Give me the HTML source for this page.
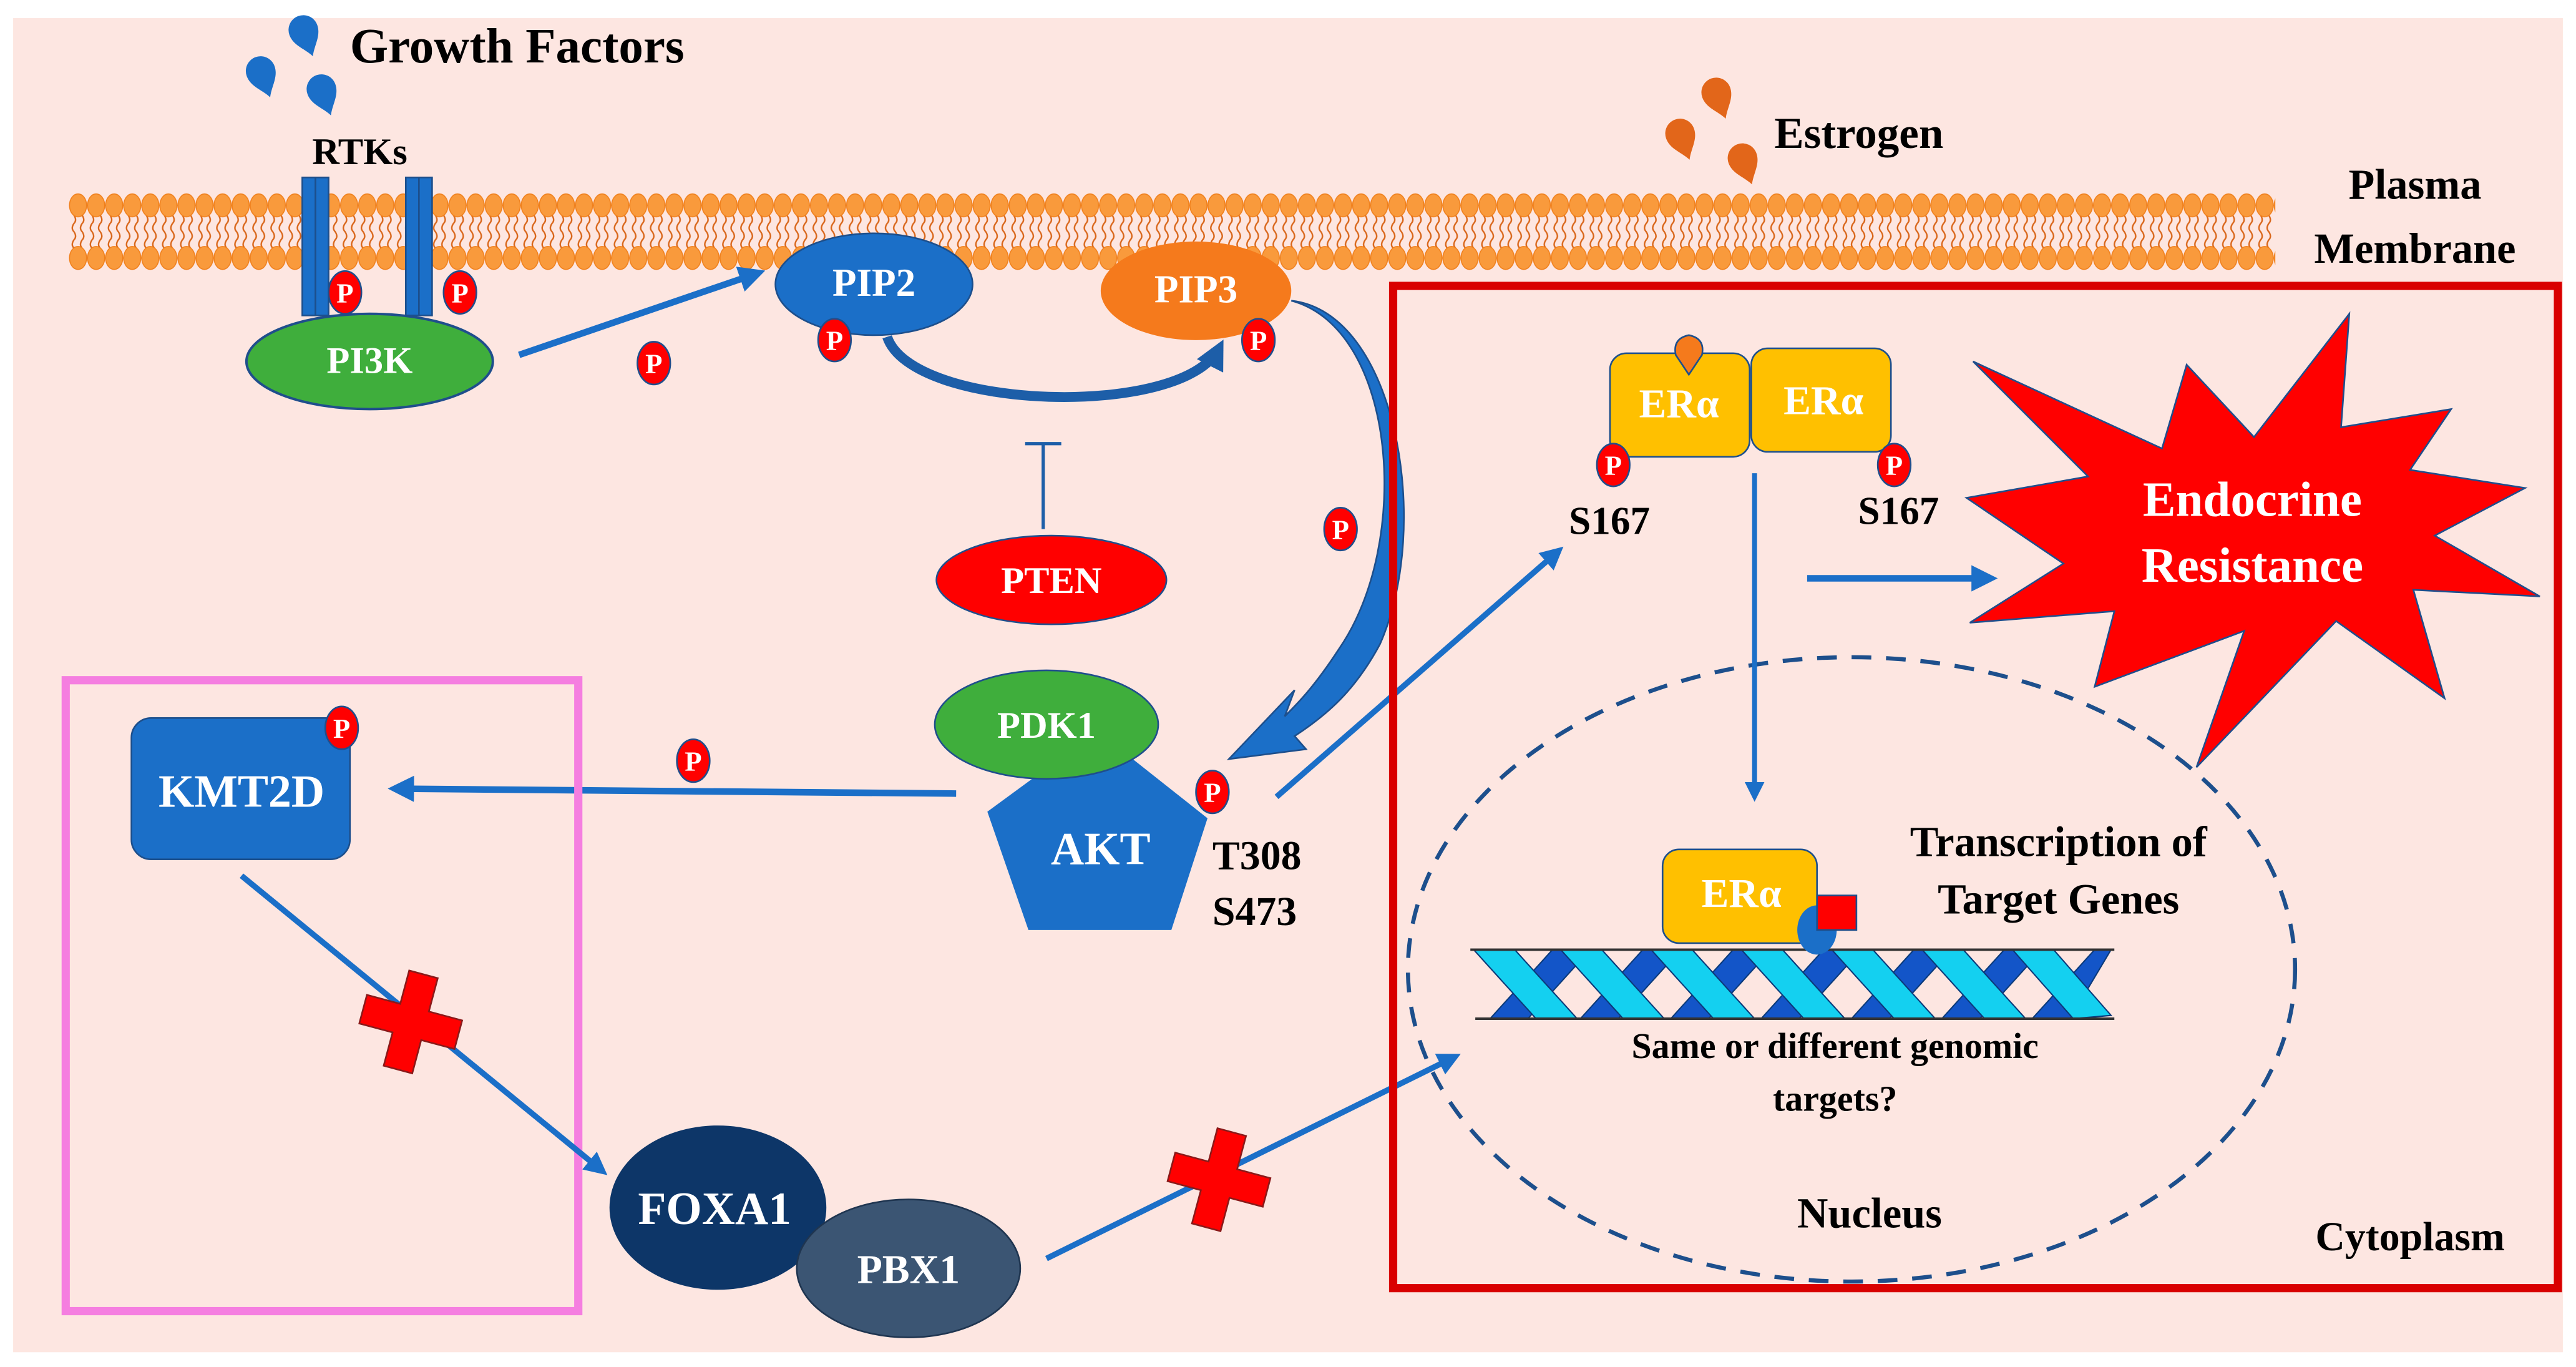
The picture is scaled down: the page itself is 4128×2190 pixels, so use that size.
<!DOCTYPE html>
<html><head><meta charset="utf-8"><style>
html,body{margin:0;padding:0;background:#fff}
svg{display:block}
text{font-family:"Liberation Serif",serif;font-weight:bold}
</style></head><body>
<svg width="4128" height="2190" viewBox="0 0 1568 832" preserveAspectRatio="none" xmlns="http://www.w3.org/2000/svg">
<defs>
<pattern id="mem" x="42" y="116" width="11" height="50" patternUnits="userSpaceOnUse">
<path d="M3 15 q2 3 0 5 q-2 3 0 5 q2 3 0 5 q-2 3 0 5 M8 15 q2 3 0 5 q-2 3 0 5 q2 3 0 5 q-2 3 0 5" stroke="#d9661a" stroke-width="0.9" fill="none"/>
<ellipse cx="5.5" cy="9" rx="5.2" ry="7" fill="#f99a3c" stroke="#f07f1a" stroke-width="0.6"/>
<ellipse cx="5.5" cy="41" rx="5.2" ry="7" fill="#f99a3c" stroke="#f07f1a" stroke-width="0.6"/>
</pattern>
<marker id="ah" markerWidth="4" markerHeight="4" refX="3" refY="2" orient="auto" markerUnits="strokeWidth"><path d="M0,0 L4,2 L0,4 Z" fill="#1b6fc8"/></marker>
<marker id="ah2" markerWidth="3" markerHeight="3" refX="2" refY="1.5" orient="auto" markerUnits="strokeWidth"><path d="M0,0 L3,1.5 L0,3 Z" fill="#1d5ea8"/></marker>
<g id="P"><ellipse rx="10" ry="13" fill="#ff0000" stroke="#1f4e8c" stroke-width="1"/><text y="6" text-anchor="middle" font-size="17" fill="#fff">P</text></g>
<path id="drop" d="M0 13 C-3 7 -9 3 -9 -4 A9 9 0 0 1 9 -4 C9 3 3 7 0 13Z"/>
</defs>
<rect x="8" y="11" width="1552" height="812" fill="#fde6e1"/>
<!-- membrane -->
<rect x="42" y="116" width="1343" height="50" fill="url(#mem)"/>
<!-- growth factors drops -->
<g fill="#1b6fc8">
<use href="#drop" transform="translate(186,22) rotate(-20)"/>
<use href="#drop" transform="translate(160,47) rotate(-20)"/>
<use href="#drop" transform="translate(197,58) rotate(-20)"/>
</g>
<text x="213" y="38" font-size="30">Growth Factors</text>
<text x="190" y="100" font-size="23">RTKs</text>
<!-- RTK bars -->
<rect x="184" y="108" width="16" height="84" fill="#1b6fc8" stroke="#1d4f8c"/>
<line x1="192" y1="108" x2="192" y2="192" stroke="#1d4f8c" stroke-width="1"/>
<rect x="247" y="108" width="16" height="84" fill="#1b6fc8" stroke="#1d4f8c"/>
<line x1="255" y1="108" x2="255" y2="192" stroke="#1d4f8c" stroke-width="1"/>
<ellipse cx="225" cy="220" rx="75" ry="29" fill="#3fae3c" stroke="#1f4e8c" stroke-width="1.5"/>
<text x="225" y="227" font-size="23" fill="#fff" text-anchor="middle">PI3K</text>
<use href="#P" x="210" y="178"/><use href="#P" x="280" y="178"/>
<line x1="316" y1="216" x2="462" y2="166" stroke="#1b6fc8" stroke-width="4" marker-end="url(#ah)"/>
<use href="#P" x="398" y="221"/>
<ellipse cx="532" cy="173" rx="60" ry="31" fill="#1b6fc8" stroke="#1d4f8c"/>
<text x="532" y="180" font-size="24" fill="#fff" text-anchor="middle">PIP2</text>
<ellipse cx="728" cy="177" rx="58" ry="30" fill="#f57a1c"/>
<text x="728" y="184" font-size="24" fill="#fff" text-anchor="middle">PIP3</text>
<use href="#P" x="508" y="207"/><use href="#P" x="766" y="207"/>
<path d="M540 205 C555 250 720 255 742 212" fill="none" stroke="#1d5ea8" stroke-width="6" marker-end="url(#ah2)"/>
<!-- PTEN -->
<line x1="635" y1="322" x2="635" y2="270" stroke="#1d5ea8" stroke-width="2"/>
<line x1="624" y1="270" x2="646" y2="270" stroke="#1d5ea8" stroke-width="2"/>
<ellipse cx="640" cy="353" rx="70" ry="27" fill="#ff0000" stroke="#1f4e8c"/>
<text x="640" y="361" font-size="23" fill="#fff" text-anchor="middle">PTEN</text>
<!-- big curved arrow PIP3->AKT -->
<path d="M786 183 C850 200 860 330 815 395 C800 418 790 428 782 436 L788 420 L748 462 L795 456 L788 448 C808 435 825 420 840 392 C872 320 850 190 786 183 Z" fill="#1b6fc8" stroke="#1d4f8c"/>
<use href="#P" x="816" y="322"/>
<!-- AKT -->
<polygon points="668,445 735,498 713,566 626,566 601,494" fill="#1b6fc8"/>
<ellipse cx="637" cy="441" rx="68" ry="33" fill="#3fae3c" stroke="#1f4e8c"/>
<text x="637" y="449" font-size="23" fill="#fff" text-anchor="middle">PDK1</text>
<text x="670" y="526" font-size="28" fill="#fff" text-anchor="middle">AKT</text>
<use href="#P" x="738" y="482"/>
<text x="738" y="529" font-size="25">T308</text>
<text x="738" y="563" font-size="25">S473</text>
<line x1="582" y1="483" x2="240" y2="480" stroke="#1b6fc8" stroke-width="4" marker-end="url(#ah)"/>
<use href="#P" x="422" y="463"/>
<!-- pink box -->
<rect x="40" y="414" width="312" height="384" fill="none" stroke="#f57ee0" stroke-width="5"/>
<rect x="80" y="437" width="133" height="86" rx="12" fill="#1b6fc8" stroke="#1d4f8c"/>
<text x="147" y="491" font-size="28" fill="#fff" text-anchor="middle">KMT2D</text>
<use href="#P" x="208" y="443"/>
<line x1="147" y1="533" x2="367" y2="713" stroke="#1b6fc8" stroke-width="3.5" marker-end="url(#ah)"/>
<g transform="translate(250,622) rotate(15)"><path d="M-9 -30 h18 v21 h21 v18 h-21 v21 h-18 v-21 h-21 v-18 h21z" fill="#ff0000" stroke="#8a1a1a" stroke-width="1"/></g>
<ellipse cx="437" cy="735" rx="66" ry="50" fill="#0d3668"/>
<text x="435" y="745" font-size="28" fill="#fff" text-anchor="middle">FOXA1</text>
<ellipse cx="553" cy="772" rx="68" ry="42" fill="#3b5573" stroke="#1f3550"/>
<text x="553" y="781" font-size="25" fill="#fff" text-anchor="middle">PBX1</text>
<line x1="637" y1="766" x2="886" y2="643" stroke="#1b6fc8" stroke-width="3.5" marker-end="url(#ah)"/>
<g transform="translate(742,718) rotate(15)"><path d="M-9 -30 h18 v21 h21 v18 h-21 v21 h-18 v-21 h-21 v-18 h21z" fill="#ff0000" stroke="#8a1a1a" stroke-width="1"/></g>
<line x1="777" y1="485" x2="949" y2="335" stroke="#1b6fc8" stroke-width="3.5" marker-end="url(#ah)"/>
<!-- red box -->
<rect x="848" y="174" width="709" height="610" fill="none" stroke="#d90000" stroke-width="5"/>
<ellipse cx="1127" cy="590" rx="270" ry="190" fill="none" stroke="#1d4f8c" stroke-width="2.5" stroke-dasharray="12 9"/>
<!-- ERa dimer -->
<rect x="980" y="215" width="85" height="63" rx="10" fill="#ffc000" stroke="#1d4f8c"/>
<rect x="1066" y="212" width="85" height="63" rx="10" fill="#ffc000" stroke="#1d4f8c"/>
<path d="M1028 228 l-8 -12 q-2 -10 8 -12 q10 2 8 12z" fill="#f57a1c" stroke="#1d4f8c"/>
<text x="1022" y="254" font-size="25" fill="#fff" text-anchor="middle">ERα</text>
<text x="1110" y="252" font-size="25" fill="#fff" text-anchor="middle">ERα</text>
<use href="#P" x="982" y="283"/><use href="#P" x="1153" y="283"/>
<text x="955" y="325" font-size="24">S167</text>
<text x="1131" y="319" font-size="24">S167</text>
<line x1="1068" y1="288" x2="1068" y2="485" stroke="#1b6fc8" stroke-width="3" marker-end="url(#ah)"/>
<line x1="1100" y1="352" x2="1212" y2="352" stroke="#1b6fc8" stroke-width="4" marker-end="url(#ah)"/>
<polygon points="1430,191 1425,260 1492,249 1467,286 1537,297 1482,326 1546,363 1469,359 1488,425 1422,378 1337,467 1366,384 1275,418 1287,372 1199,379 1256,343 1197,303 1271,290 1201,220 1316,273 1331,222 1372,266" fill="#ff0000" stroke="#1f4e8c" stroke-width="1"/>
<text x="1371" y="314" font-size="30" fill="#fff" text-anchor="middle">Endocrine</text>
<text x="1371" y="354" font-size="30" fill="#fff" text-anchor="middle">Resistance</text>
<!-- DNA -->
<g stroke="#0b3a7a" stroke-width="0.8">
<g fill="#1355c8">
<polygon points="945,578 968,578 930,620 907,620"/>
<polygon points="1000,578 1023,578 985,620 962,620"/>
<polygon points="1055,578 1078,578 1040,620 1017,620"/>
<polygon points="1110,578 1133,578 1095,620 1072,620"/>
<polygon points="1165,578 1188,578 1150,620 1127,620"/>
<polygon points="1220,578 1243,578 1205,620 1182,620"/>
<polygon points="1275,578 1285,578 1260,620 1237,620"/>
</g>
<g fill="#14d0f0">
<polygon points="897,578 922,578 960,620 935,620"/>
<polygon points="950,578 975,578 1013,620 988,620"/>
<polygon points="1005,578 1030,578 1068,620 1043,620"/>
<polygon points="1060,578 1085,578 1123,620 1098,620"/>
<polygon points="1115,578 1140,578 1178,620 1153,620"/>
<polygon points="1170,578 1195,578 1233,620 1208,620"/>
<polygon points="1225,578 1250,578 1285,618 1262,620"/>
</g>
</g>
<line x1="895" y1="578" x2="1287" y2="578" stroke="#333" stroke-width="1.5"/>
<line x1="898" y1="620" x2="1287" y2="620" stroke="#333" stroke-width="1.5"/>
<rect x="1012" y="517" width="94" height="57" rx="10" fill="#ffc000" stroke="#1d4f8c"/>
<text x="1060" y="552" font-size="25" fill="#fff" text-anchor="middle">ERα</text>
<ellipse cx="1106" cy="566" rx="12" ry="15" fill="#1b6fc8"/>
<rect x="1106" y="545" width="24" height="21" fill="#ff0000" stroke="#1d4f8c"/>
<text x="1253" y="521" font-size="26" text-anchor="middle">Transcription of</text>
<text x="1253" y="556" font-size="26" text-anchor="middle">Target Genes</text>
<text x="1117" y="644" font-size="22" text-anchor="middle">Same or different genomic</text>
<text x="1117" y="676" font-size="22" text-anchor="middle">targets?</text>
<text x="1138" y="747" font-size="26" text-anchor="middle">Nucleus</text>
<text x="1467" y="761" font-size="25" text-anchor="middle">Cytoplasm</text>
<text x="1470" y="121" font-size="26" text-anchor="middle">Plasma</text>
<text x="1470" y="160" font-size="26" text-anchor="middle">Membrane</text>
<g fill="#e2661a">
<use href="#drop" transform="translate(1046,60) rotate(-20)"/>
<use href="#drop" transform="translate(1024,85) rotate(-20)"/>
<use href="#drop" transform="translate(1062,100) rotate(-20)"/>
</g>
<text x="1080" y="90" font-size="27">Estrogen</text>
</svg>
</body></html>
